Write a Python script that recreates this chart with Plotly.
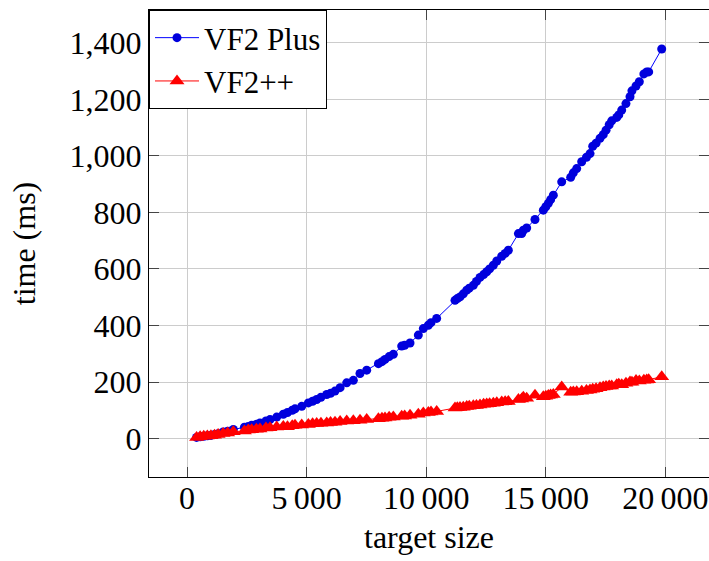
import plotly.graph_objects as go

target_size = [400, 550, 700, 850, 1000, 1150, 1300, 1510, 1700, 1936, 2400, 2563, 2704, 2900, 3052,
               3300, 3470, 3750, 4026, 4200, 4400, 4515, 4795, 5073, 5250, 5421, 5600, 5840, 6000, 6187,
               6400, 6676, 6953, 7232, 7512, 8002, 8150, 8278, 8450, 8625, 8975, 9100, 9323, 9670, 9879,
               10088, 10200, 10437, 11204, 11300, 11413, 11550, 11693, 11800, 11970, 12100, 12249, 12400,
               12529, 12650, 12806, 12950, 13157, 13300, 13433, 13855, 13992, 14060, 14200, 14548, 14896,
               15000, 15105, 15200, 15314, 15664, 16040, 16150, 16291, 16500, 16700, 16848, 16961, 17100,
               17266, 17400, 17517, 17650, 17755, 17964, 18050, 18173, 18350, 18520, 18600, 18771, 18909,
               19100, 19218, 19300, 19845]

vf2_plus = [4, 6, 8, 10, 11, 14, 17, 23, 26, 32, 40, 43, 47, 51, 55,
            62, 67, 76, 86, 92, 100, 105, 114, 126, 132, 138, 146, 156, 160, 168,
            180, 197, 206, 230, 242, 265, 272, 280, 290, 298, 327, 330, 338, 366, 389,
            401, 410, 425, 489, 495, 501, 512, 525, 532, 542, 556, 570, 580,
            590, 600, 613, 628, 645, 655, 666, 725, 725, 737, 745, 775, 808,
            820, 832, 845, 861, 908, 924, 940, 955, 979, 995, 1008, 1034, 1045,
            1062, 1075, 1091, 1110, 1124, 1136, 1145, 1162, 1185, 1209, 1230, 1247, 1262,
            1290, 1297, 1297, 1378]

vf2_pp = [4, 6, 8, 9, 10, 12, 14, 18, 20, 24, 27, 30, 31, 33, 34,
          37, 38, 41, 43, 42, 45, 47, 48, 50, 52, 53, 54, 55, 57, 58,
          60, 62, 63, 65, 67, 70, 72, 73, 75, 76, 79, 80, 82, 86, 90,
          92, 94, 96, 108, 109, 110, 111, 113, 114, 116, 117, 119, 121,
          122, 123, 125, 127, 129, 130, 131, 138, 140, 146, 143, 153, 148,
          150, 152, 154, 156, 182, 164, 165, 166, 167, 170, 172, 174, 176,
          180, 182, 184, 186, 186, 190, 192, 190, 196, 200, 199, 205, 204,
          206, 207, 208, 219]

x_tick_vals = [0, 5000, 10000, 15000, 20000]
x_tick_text = ["0", "5\u2009000", "10\u2009000", "15\u2009000", "20\u2009000"]
y_tick_vals = [0, 200, 400, 600, 800, 1000, 1200, 1400]
y_tick_text = ["0", "200", "400", "600", "800", "1,000", "1,200", "1,400"]

FONT = "Liberation Serif"
FS = 32

fig = go.Figure()
fig.add_trace(go.Scatter(
    x=target_size, y=vf2_plus, mode="lines+markers", name="VF2 Plus",
    line=dict(color="#0000ff", width=1),
    marker=dict(symbol="circle", size=9, color="#0000dd", line=dict(width=0)),
))
fig.add_trace(go.Scatter(
    x=target_size, y=vf2_pp, mode="lines+markers", name="VF2++",
    line=dict(color="#ff0000", width=1),
    marker=dict(symbol="triangle-up", size=13, color="#ff0000", line=dict(width=0)),
))

axis_common = dict(
    showgrid=True, gridcolor="#cccccc", gridwidth=1,
    zeroline=False, showline=True, linecolor="black", linewidth=1,
    ticks="inside", ticklen=10, tickwidth=1, tickcolor="#444444",
    tickfont=dict(family=FONT, size=FS, color="black"),
)

fig.update_layout(
    width=709, height=561,
    margin=dict(l=149, r=0, t=10, b=84),
    paper_bgcolor="white", plot_bgcolor="white",
    font=dict(family=FONT, size=FS, color="black"),
    xaxis=dict(range=[-1589, 21822], tickvals=x_tick_vals, ticktext=x_tick_text,
               mirror="all", ticklabelstandoff=-7,
               title=dict(text="target size", standoff=10,
                          font=dict(family=FONT, size=FS)),
               **axis_common),
    yaxis=dict(range=[-136, 1516], tickvals=y_tick_vals, ticktext=y_tick_text,
               mirror="ticks",
               title=dict(text="time (ms)", standoff=24,
                          font=dict(family=FONT, size=FS)),
               **axis_common),
    legend=dict(x=0, y=1, xanchor="left", yanchor="top",
                bordercolor="black", borderwidth=1, bgcolor="white",
                font=dict(family=FONT, size=31), itemwidth=44,
                tracegroupgap=0),
    showlegend=True,
)

fig.write_html("out.html")
